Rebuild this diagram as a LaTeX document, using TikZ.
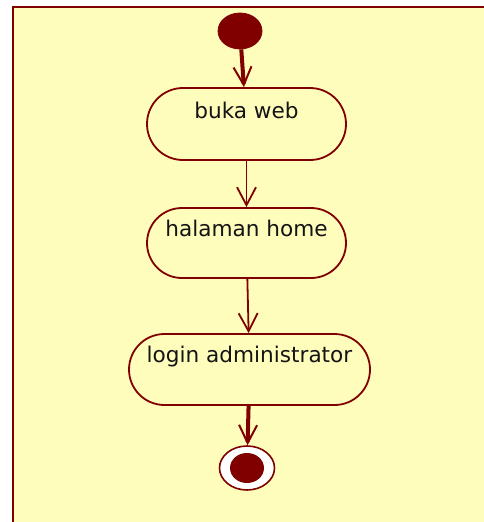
\documentclass[tikz,border=0pt]{standalone}
\usepackage{fontspec}
\setmainfont{DejaVu Sans}
\usetikzlibrary{arrows.meta,shapes.misc,shapes.geometric}
\definecolor{umlred}{RGB}{128,0,0}
\definecolor{umlbg}{RGB}{255,253,187}
\definecolor{txt}{RGB}{20,20,20}
\tikzset{
  actbox/.style={rounded rectangle, draw=umlred, line width=1.8pt, fill=umlbg,
    inner sep=0pt, minimum height=#1},
  actbox/.default=71pt,
  acttext/.style={anchor=base, text=txt, font=\fontsize{21.6pt}{24pt}\selectfont, inner sep=0pt},
  thinflow/.style={draw=umlred, line width=1.8pt,
    -{Straight Barb[length=18pt,width=19pt,line width=1.8pt 0]}},
  thickflow/.style={draw=umlred, line width=4pt,
    -{Straight Barb[length=18pt,width=18pt,line width=2pt 0]}},
}
\begin{document}
\begin{tikzpicture}[x=1pt,y=-1pt]
\useasboundingbox (0,0) rectangle (484,522);
\fill[white] (0,0) rectangle (484,522);
\fill[umlbg] (13,7) rectangle (490,530);
\draw[umlred, line width=2.8pt] (13,530) -- (13,7) -- (490,7);

\node[ellipse, fill=umlred, draw=umlred, line width=0.8pt, inner sep=0pt,
  minimum width=44pt, minimum height=36pt] (start) at (240,31) {};

\node[actbox=72pt, minimum width=199pt] (b1) at (246.5,124) {};
\node[acttext] (t1) at (246.5,118) {buka web};

\node[actbox=70pt, minimum width=199pt] (b2) at (246.5,243) {};
\node[acttext] (t2) at (246.5,236) {halaman home};

\node[actbox=71pt, minimum width=241pt] (b3) at (249.5,369.5) {};
\node[acttext] (t3) at (249.5,362) {login administrator};

\node[ellipse, fill=white, draw=umlred, line width=1.6pt, inner sep=0pt,
  minimum width=55pt, minimum height=44pt] (endo) at (247,468) {};
\node[ellipse, fill=umlred, inner sep=0pt,
  minimum width=34pt, minimum height=30pt] (endi) at (247,468) {};

\draw[thickflow] (start) -- (b1);
\draw[thinflow] (b1) -- (b2);
\draw[thinflow] (b2) -- (b3);
\draw[thickflow] (b3) -- (endo);
\end{tikzpicture}
\end{document}
